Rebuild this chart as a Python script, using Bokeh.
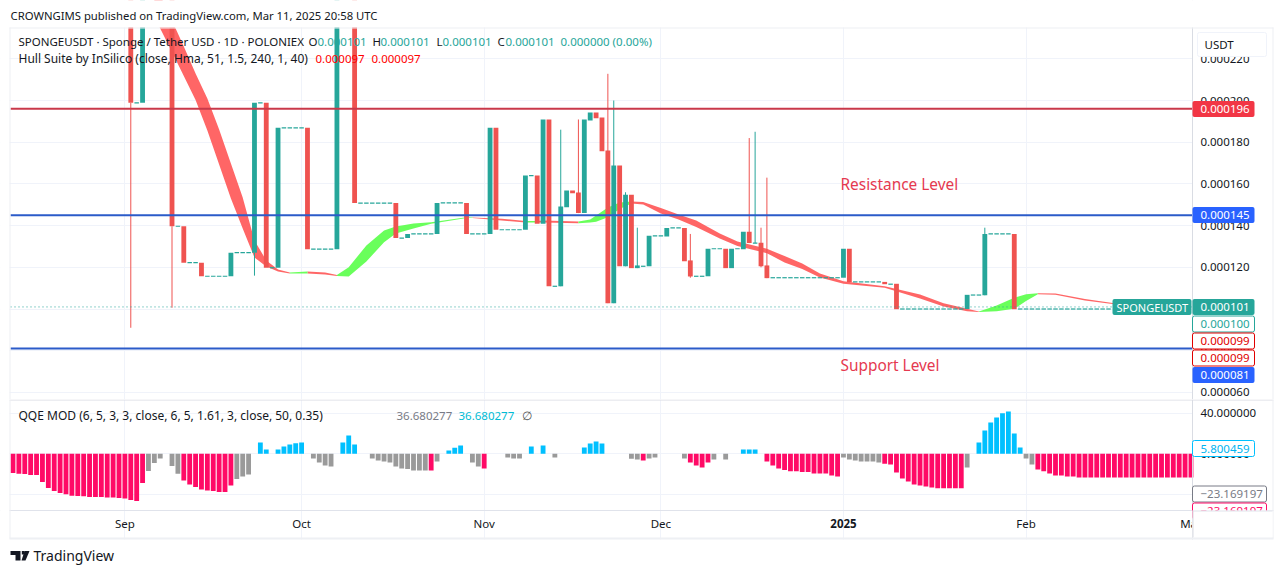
from bokeh.plotting import figure
from bokeh.layouts import column
from bokeh.models import (Range1d, FixedTicker, PrintfTickFormatter, Label, BoxAnnotation, PolyAnnotation)
from bokeh.embed import file_html
from bokeh.resources import INLINE

FONT = "Noto Sans"
FS = "11.5px"
MICRO = 1e-6
DARK = "#131722"
TEAL = "#26A69A"
RED = "#EF5350"

# ---- candles: days since 1 Sep 2024, prices in millionths of a USDT
candle_days = list(range(1, 168))
candle_open = [260, 198.9, 198.9, 260, 260, 260, 260, 260, 139.7, 139.7, 122.2, 122.2, 122.2, 115.7, 115.7, 115.7, 115.7,
               115.7, 127, 127, 127, 127, 198.9, 198.9, 119.8, 119.8, 186.9, 186.9, 186.9, 186.9, 186.9,
               128.7, 128.7, 128.7, 128.7, 128.7, 260, 260, 260, 150.8, 150.8, 150.8, 150.8, 150.8, 150.8,
               150.8, 134, 134, 136, 136, 136, 136, 136, 150.9, 150.9, 150.9, 150.9, 150.9, 136, 136, 136,
               136, 186.9, 138, 138, 138, 138, 138, 164, 164, 140.9, 190.9, 110.9, 110.9, 148.8, 156.8, 155.9,
               146, 190.4, 194.2, 191.8, 176, 102.8, 168.8, 120.5, 154.8, 119.6, 120.5, 120.5, 135.1, 135.1,
               134.8, 138.9, 138.9, 138.9, 123.3, 115.7, 115.7, 115.7, 128.9, 128.9, 128.9, 119.6, 128.9, 128.7,
               137, 131.6, 131.8, 120.9, 115, 115, 115, 115, 115, 115, 115, 115, 115, 115, 115, 115,
               115, 128.9, 113, 113, 113, 113, 113, 113, 111.9, 112.1, 100, 100, 100, 100, 100, 100, 100, 100, 100,
               100, 100, 100, 106.7, 106.7, 106.6, 136, 136, 136, 136, 136, 100, 100, 100, 100, 100, 100, 100, 100,
               100, 100, 100, 100, 100, 100, 100, 100]
candle_close = [198.9, 198.9, 260, 260, 260, 260, 260, 139.7, 139.7, 122.2, 122.2, 122.2, 115.7, 115.7, 115.7, 115.7, 115.7,
                127, 127, 127, 127, 198.9, 198.9, 119.8, 119.8, 186.9, 186.9, 186.9, 186.9, 186.9, 128.7,
                128.7, 128.7, 128.7, 128.7, 260, 260, 260, 150.8, 150.8, 150.8, 150.8, 150.8, 150.8, 150.8,
                134, 134, 136, 136, 136, 136, 136, 150.9, 150.9, 150.9, 150.9, 150.9, 136, 136, 136, 136,
                186.9, 138, 138, 138, 138, 138, 164, 164, 140.9, 190.9, 110.9, 110.9, 149.2, 156.8, 155.5, 146,
                190.9, 194.2, 191.5, 175.7, 102.8, 168.8, 120.5, 154.8, 119.6, 120.9, 120.5, 135.1, 135.1, 135.1,
                138.9, 138.9, 138.9, 122.9, 115.6, 115.7, 115.7, 128.9, 128.9, 128.9, 119.6, 128.9, 128.9, 137,
                131.6, 131.6, 120.5, 114.8, 115, 115, 115, 115, 115, 115, 115, 115, 115, 115, 115, 115,
                128.9, 112.9, 113, 113, 113, 113, 113, 111.9, 111.9, 99.9, 100, 100, 100, 100, 100, 100, 100, 100, 100,
                100, 100, 106.8, 106.7, 106.7, 136, 136, 136, 136, 136, 99.9, 100, 100, 100, 100, 100, 100, 100, 100,
                100, 100, 100, 100, 100, 100, 100, 100]
wick_days = [1, 8, 22, 74, 77, 82, 83, 85, 87, 96, 106, 107, 108, 109, 146]
wick_high = [198.9, 139.7, 127, 186, 190.9, 212.8, 200, 156, 139, 136, 182, 185, 139, 163, 139]
wick_low = [91, 100.6, 116, 110.9, 146, 102.8, 102.8, 120.5, 119.6, 115, 131.6, 131.6, 120, 114.8, 106.6]

# ---- Hull Suite band
hull_days = [5, 6, 8, 10, 12, 14, 16, 18, 20, 22, 24, 26, 28, 31, 34, 36, 38, 41, 44, 46, 49, 52, 58, 59, 64, 68, 70, 71,
             77, 79, 80, 82, 84, 86, 88, 91, 94, 97, 101, 104, 109, 112, 115, 118, 122, 129, 135, 139, 143, 145, 148,
             151, 153, 155, 158, 163, 168]
hull_upper = [251.8, 250.4, 238.4, 225.9, 212.9, 201, 186.1, 169.8, 153.5, 132.9, 123.3, 118.9, 117.5, 118.0, 117.5, 116.3,
              120.0, 130.5, 137.7, 139.6, 141.0, 141.6, 144.0, 143.9, 143.3, 142.2, 142.2, 142.4, 142.0, 142.9, 144.8,
              148.7, 151.1, 151.6, 151.3, 148.4, 145.3, 142.4, 136.2, 132.4, 128.9, 125.4, 121.8, 117.0, 113.3, 110.9,
              107.0, 102.8, 100.1, 98.8, 101.7, 105.4, 107.1, 107.6, 107.4, 104.8, 102.8]
hull_lower = [240.3, 234.5, 223.3, 211.7, 200.2, 185.6, 169.3, 153, 138.6, 124.7, 120.4, 118, 117.0, 117.0, 116.6, 115.8,
              115.6, 122.8, 132.0, 136.2, 138.6, 140.9, 143.6, 143.6, 142.4, 141.5, 141.5, 141.5, 141.1, 141.5, 141.9,
              144.0, 148.0, 150.6, 150.1, 145.8, 142.9, 139.3, 133.8, 130.2, 126.8, 122.3, 119.2, 115.1, 112.1, 110.2,
              105.0, 101.2, 98.9, 98.6, 98.9, 100.1, 103.9, 107.1, 106.8, 104.1, 102.3]
hull_rising = [(28, 31), (36, 59), (68, 70), (77, 86), (145, 155)]
hull_falling = [(5, 28), (31, 36), (59, 68), (70, 77), (86, 145), (155, 168)]

levels_resistance = [196]
levels_support = [145, 81]
last_price = 101

# ---- QQE MOD histogram
qqe_pink_days = list(range(-19, 4)) + [10, 11, 12, 13, 14, 15, 16, 17, 18, 52, 61, 88, 96, 97, 98, 99,
                109, 110, 111, 112, 113, 114, 115, 116, 117, 118, 119, 120, 121, 129, 130, 131, 132, 133, 134, 135, 136,
                137, 138, 139, 140, 141, 142] + list(range(155, 182))
qqe_pink_vals = [-19.1, -19.7, -20.1, -21.1, -21.1, -28, -33.9, -36.8, -38.8, -40.1, -41.5, -41.8, -42.1, -42.8, -42.8, -42.8,
                 -43.1, -43.1, -43.8, -44.1, -45.7, -46.7, -29,
                 -26.3, -30.3, -32.9, -35.2, -36.2, -36.8, -37.8, -37.8, -31.3, -16.5, -14.5, -6.6, -8.6, -11.5, -13.5, -8.6,
                 -7.6, -11.5, -14.5, -16.1, -17.4, -17.4, -18.1, -18.1, -19.4, -19.4, -19.4, -21.4, -22.4,
                 -9.9, -10.5, -18.4, -24.4, -27.3, -30.3, -31.3, -32.3, -33.3, -34.2, -34.2, -34.2, -34.2, -34.2,
                 -15.5, -17.4, -19.4, -21.4, -21.4, -22.4, -22.4, -23.4, -23.4, -23.4, -23.4, -23.4, -23.4, -23.4, -23.4,
                 -23.4, -23.4, -23.4, -23.4, -23.4, -23.4, -23.4, -23.4, -23.4, -23.4, -23.4, -23.4]
qqe_grey_days = [4, 5, 6, 8, 9, 19, 20, 21, 32, 33, 34, 35, 42, 43, 44, 45, 46, 47, 48, 49, 50, 51, 53, 59, 60, 65, 66, 67, 73,
                 86, 87, 89, 90, 95, 100, 102, 122, 123, 124, 125, 126, 127, 128, 143, 153, 154]
qqe_grey_vals = [-17.1, -9.2, -4.6, -12.2, -19.7, -25, -22.4, -20.4, -4.6, -8.6, -11.5, -12.5, -4.6, -6.6, -7.6, -8.6, -12.5,
                 -14.5, -15.1, -16.5, -16.5, -16.5, -7.6, -8.6, -12.5, -3.6, -4.6, -4.6, -3.6,
                 -4.9, -5.6, -4.6, -3.6, -4.6, -5.6, -5.6, -3.6, -5.6, -6.6, -7.6, -7.6, -7.6, -8.6, -13.5, -4.6, -10.5]
qqe_blue_days = [23, 24, 26, 27, 28, 29, 30, 37, 38, 39, 55, 56, 57, 69, 71, 78, 79, 80, 81, 105, 106, 107,
                 145, 146, 147, 148, 149, 150, 151, 152]
qqe_blue_vals = [11.2, 4.3, 4.3, 7.2, 9.2, 10.5, 11.2, 11.2, 18.1, 9.2, 3.3, 5.9, 8.2, 7.2, 8.2, 6.3, 10.2, 12.2, 10.2,
                 4.3, 4.3, 4.3, 11.2, 23, 31, 35.9, 39.9, 41.8, 20.1, 6.3]

# ---- axes
month_days = [0, 30, 61, 91, 122, 153, 181]
month_labels = {0: "Sep", 30: "Oct", 61: "Nov", 91: "Dec", 122: "", 153: "Feb", 181: "Mar"}
price_ticks = [60, 80, 100, 120, 140, 160, 180, 200, 220]
qqe_ticks = [-40, 0, 40]
qqe_tick_labels = {-40: "\u221240.000000", 0: "0.000000", 40: "40.000000"}

GRID = "#F0F3FA"
PANE_LEFT, PANE_RIGHT = -19.42, 181.24
x_range = Range1d(-21.12, 196.37)
W, H1, H2 = 1281, 399, 174


def style(p):
    p.background_fill_color = "white"
    p.border_fill_color = "white"
    p.outline_line_color = None
    p.yaxis.fixed_location = PANE_RIGHT
    p.yaxis.major_tick_line_color = None
    p.yaxis.minor_tick_line_color = None
    p.yaxis.major_tick_out = 0
    p.yaxis.major_label_standoff = 8
    p.yaxis.major_label_text_font = FONT
    p.yaxis.major_label_text_font_size = FS
    p.yaxis.major_label_text_color = DARK
    p.yaxis.axis_line_color = "#D9DCE3"
    p.xgrid.ticker = FixedTicker(ticks=month_days[:-1])
    p.xgrid.grid_line_color = GRID
    p.ygrid.grid_line_color = GRID
    # keeps the horizontal gridlines out of the scale panel
    p.add_layout(BoxAnnotation(left=PANE_RIGHT, right=x_range.end, fill_color="white", fill_alpha=1,
                               line_alpha=0, level="underlay"))


p1 = figure(width=W, height=H1, x_range=x_range, y_range=Range1d(56.6 * MICRO, 247.96 * MICRO),
            y_axis_location="right", output_backend="svg", toolbar_location=None,
            min_border_left=0, min_border_right=0, min_border_top=0, min_border_bottom=0)
style(p1)
p1.xaxis.visible = False
p1.yaxis.ticker = FixedTicker(ticks=[v * MICRO for v in price_ticks])
p1.ygrid.ticker = FixedTicker(ticks=[v * MICRO for v in price_ticks])
p1.yaxis.formatter = PrintfTickFormatter(format="%.6f")

p2 = figure(width=W, height=H2, x_range=x_range, y_range=Range1d(-118.3, 53.6),
            y_axis_location="right", output_backend="svg", toolbar_location=None,
            min_border_left=0, min_border_right=0, min_border_top=0, min_border_bottom=0)
style(p2)
p2.yaxis.ticker = FixedTicker(ticks=qqe_ticks)
p2.ygrid.ticker = FixedTicker(ticks=qqe_ticks)
p2.yaxis.major_label_overrides = qqe_tick_labels
p2.xaxis.fixed_location = -56
p2.xaxis.ticker = FixedTicker(ticks=month_days)
p2.xaxis.major_label_overrides = month_labels
p2.xaxis.major_tick_line_color = None
p2.xaxis.minor_tick_line_color = None
p2.xaxis.major_tick_out = 0
p2.xaxis.major_label_standoff = 6
p2.xaxis.major_label_text_font = FONT
p2.xaxis.major_label_text_font_size = FS
p2.xaxis.major_label_text_color = DARK
p2.xaxis.axis_line_color = "#E0E3EB"


def slice_hull(a, b):
    i = hull_days.index(a)
    j = hull_days.index(b) + 1
    return hull_days[i:j], [v * MICRO for v in hull_upper[i:j]], [v * MICRO for v in hull_lower[i:j]]


for a, b in hull_falling:
    x, u, l = slice_hull(a, b)
    p1.varea(x=x, y1=l, y2=u, fill_color="#FF5555", fill_alpha=0.9)
for a, b in hull_rising:
    x, u, l = slice_hull(a, b)
    p1.varea(x=x, y1=l, y2=u, fill_color="#5CFF4D", fill_alpha=0.92)

up = [i for i in range(len(candle_days)) if candle_close[i] > candle_open[i]]
down = [i for i in range(len(candle_days)) if candle_close[i] < candle_open[i]]
flat = [i for i in range(len(candle_days)) if candle_close[i] == candle_open[i]]

wick_colour = [TEAL if d in [candle_days[i] for i in up + flat] else RED for d in wick_days]
p1.segment(x0=wick_days, x1=wick_days, y0=[v * MICRO for v in wick_low], y1=[v * MICRO for v in wick_high],
           line_color=wick_colour, line_width=1)
for idx, col in ((up, TEAL), (down, RED)):
    p1.vbar(x=[candle_days[i] for i in idx], width=0.82,
            bottom=[min(candle_open[i], candle_close[i]) * MICRO for i in idx],
            top=[max(candle_open[i], candle_close[i]) * MICRO for i in idx],
            fill_color=col, line_color=None)
p1.segment(x0=[candle_days[i] - 0.38 for i in flat], x1=[candle_days[i] + 0.38 for i in flat],
           y0=[candle_open[i] * MICRO for i in flat], y1=[candle_open[i] * MICRO for i in flat],
           line_color=TEAL, line_width=1.2)


def level(values, color, width, dash="solid"):
    p1.segment(x0=[PANE_LEFT] * len(values), x1=[PANE_RIGHT] * len(values), y0=[v * MICRO for v in values],
               y1=[v * MICRO for v in values], line_color=color, line_width=width, line_dash=dash)


level([last_price], TEAL, 1, "1 3")
level(levels_resistance, "#C9394A", 2)
level(levels_support, "#2B5BC9", 2)

for days, vals, col in ((qqe_pink_days, qqe_pink_vals, "#FF0A66"), (qqe_grey_days, qqe_grey_vals, "#9A9A9A"),
                        (qqe_blue_days, qqe_blue_vals, "#00C0FF")):
    p2.vbar(x=days, width=0.82, bottom=0, top=vals, fill_color=col, line_color=None)


def text(fig, top, x, y, s, color=DARK, size=FS, align="left", style_="normal"):
    fig.add_layout(Label(x=x, y=y - top, x_units="canvas", y_units="canvas", text=s, text_color=color,
                         text_font=FONT, text_font_size=size, text_baseline="middle", text_align=align,
                         text_font_style=style_))


def box(fig, top, x0, y0, x1, y1, fill=None, line=None, radius=0):
    fig.add_layout(BoxAnnotation(left=x0, right=x1, top=y0 - top, bottom=y1 - top,
                                 left_units="canvas", right_units="canvas", top_units="canvas", bottom_units="canvas",
                                 fill_color=fill, fill_alpha=1 if fill else 0, line_color=line,
                                 line_alpha=1 if line else 0, line_width=1, border_radius=radius))


def tag(fig, top, yc, s, fill, line, color, x1=1254):
    box(fig, top, 1192, yc - 8, x1, yc + 8, fill=fill, line=line, radius=2)
    text(fig, top, 1200, yc, s, color=color)


T1, T2 = 0, 399
# outer white margins and the frame round the chart
box(p1, T1, -2, -5, W + 2, 27, fill="white")
box(p1, T1, -2, -5, 9, H1, fill="white")
box(p1, T1, 1272, -5, W + 2, H1, fill="white")
box(p1, T1, 9, 27, 1273, 28, fill="#EEF0F4")
box(p1, T1, 9, 27, 10, 399, fill="#EEF0F4")
box(p1, T1, 1272, 27, 1273, 399, fill="#EEF0F4")

# header
text(p1, T1, 10, 15, "CROWNGIMS published on TradingView.com, Mar 11, 2025 20:58 UTC", size="11.3px")
text(p1, T1, 18, 41, "SPONGEUSDT \u00b7 Sponge / Tether USD \u00b7 1D \u00b7 POLONIEX")
text(p1, T1, 308, 41, "O")
text(p1, T1, 317, 41, "0.000101", color=TEAL)
text(p1, T1, 372, 41, "H")
text(p1, T1, 380, 41, "0.000101", color=TEAL)
text(p1, T1, 436, 41, "L")
text(p1, T1, 442, 41, "0.000101", color=TEAL)
text(p1, T1, 497, 41, "C")
text(p1, T1, 505, 41, "0.000101", color=TEAL)
text(p1, T1, 560, 41, "0.000000 (0.00%)", color=TEAL)
text(p1, T1, 18, 58, "Hull Suite by InSilico (close, Hma, 51, 1.5, 240, 1, 40)", size="12px")
text(p1, T1, 315, 58, "0.000097", color="#FF0000")
text(p1, T1, 371, 58, "0.000097", color="#FF0000")
text(p1, T1, 840, 184, "Resistance Level", color="#E5394F", size="15.4px")
text(p1, T1, 840, 365, "Support Level", color="#E5394F", size="15.4px")

# price tags
box(p1, T1, 1197, 32, 1266, 56, fill="white", line="#F0F3FA", radius=2)
text(p1, T1, 1204, 44, "USDT")
tag(p1, T1, 108.5, "0.000196", "#F23645", None, "white")
tag(p1, T1, 214.5, "0.000145", "#2962FF", None, "white")
box(p1, T1, 1112, 298.5, 1191, 314.5, fill=TEAL, radius=2)
text(p1, T1, 1116, 306.5, "SPONGEUSDT", color="white", size="11px")
tag(p1, T1, 306.5, "0.000101", TEAL, None, "white")
tag(p1, T1, 323.5, "0.000100", "white", TEAL, TEAL)
tag(p1, T1, 340.5, "0.000099", "white", "#E00000", "#E00000")
tag(p1, T1, 357.5, "0.000099", "white", "#E00000", "#E00000")
tag(p1, T1, 374.5, "0.000081", "#2962FF", None, "white")

# QQE pane frame, header and tags
box(p2, T2, -2, 399, 9, 575, fill="white")
box(p2, T2, 1273, 399, W + 2, 575, fill="white")
box(p2, T2, 9, 399, 1273, 400, fill="#D9DCE3")
box(p2, T2, 9, 399, 10, 538, fill="#EEF0F4")
box(p2, T2, 1272, 399, 1273, 538, fill="#EEF0F4")
text(p2, T2, 18, 415, "QQE MOD (6, 5, 3, 3, close, 6, 5, 1.61, 3, close, 50, 0.35)", size="12px")
text(p2, T2, 396, 415, "36.680277", color="#787B86")
text(p2, T2, 458, 415, "36.680277", color="#00BCD4")
text(p2, T2, 521, 415, "\u2205", color="#555555")
tag(p2, T2, 448, "5.800459", "white", "#00C0FF", "#00B4F0")
tag(p2, T2, 493.5, "\u221223.169197", "white", "#787B86", "#787B86", x1=1266)
tag(p2, T2, 510.5, "\u221223.169197", "white", "#FF0A66", "#FF0A66", x1=1266)
box(p2, T2, 1192, 510, 1272, 537, fill="white")
box(p2, T2, 1192, 510, 1272, 511, fill="#E0E3EB")
box(p2, T2, 1192, 510, 1193, 537, fill="#D9DCE3")
box(p2, T2, -2, 539, W + 2, 575, fill="white")
box(p2, T2, 9, 537, 1273, 539, fill="#EEF0F4")

# bold year label on the time axis
p2.add_layout(Label(x=122, y=523 - T2, x_units="data", y_units="canvas", text="2025", text_font=FONT,
                    text_font_size=FS, text_font_style="bold", text_color=DARK, text_align="center",
                    text_baseline="middle"))


def logo(xs, ys):
    p2.add_layout(PolyAnnotation(xs=xs, ys=[y - T2 for y in ys], xs_units="canvas", ys_units="canvas",
                                 fill_color=DARK, fill_alpha=1, line_alpha=0))


# footer
logo([10, 20, 20, 15, 15, 10], [550.5, 550.5, 560, 560, 554.5, 554.5])
logo([21.3, 24, 24, 21.3], [550.5, 550.5, 554, 554])
logo([24, 29, 25, 21], [550.5, 550.5, 560, 560])
text(p2, T2, 33, 555, "TradingView", size="14px")

layout = column(p1, p2, spacing=0)
open("out.html", "w").write(file_html(layout, INLINE))
